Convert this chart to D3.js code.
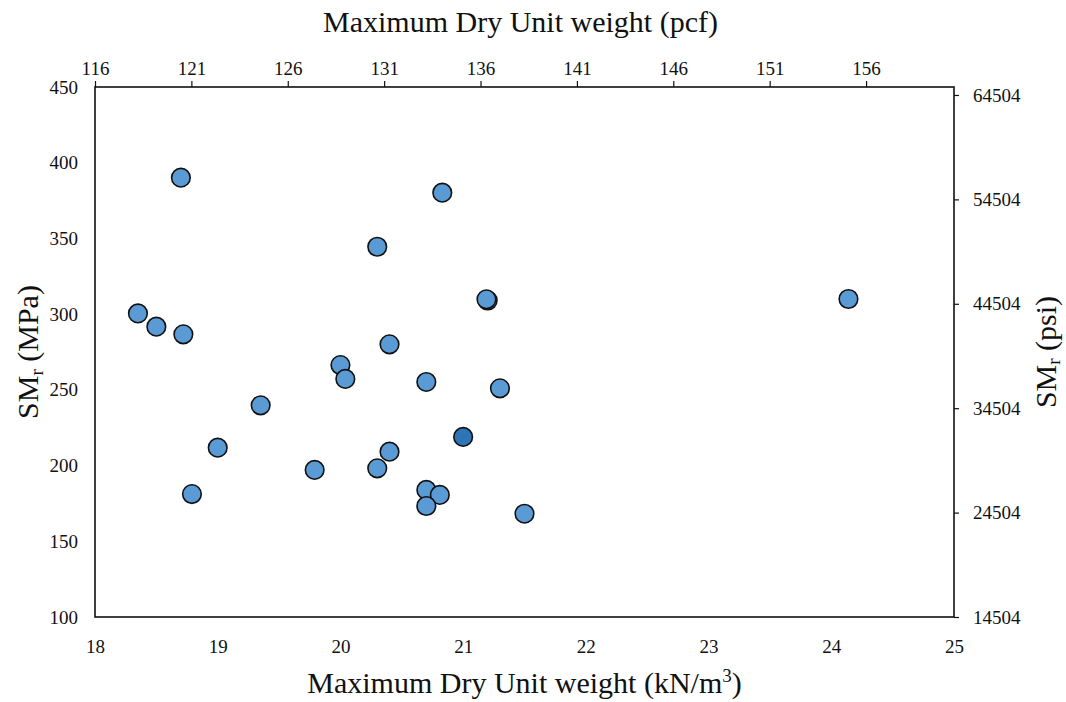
<!DOCTYPE html>
<html>
<head>
<meta charset="utf-8">
<script src="https://cdn.jsdelivr.net/npm/d3@7"></script>
<style>
  html, body { margin: 0; padding: 0; background: #fff; }
  svg text { font-family: "Liberation Serif", "Times New Roman", serif; fill: #111; }
</style>
</head>
<body>
<svg id="chart" width="1066" height="702"></svg>
<script>
// Maximum dry unit weight (kN/m³) and resilient modulus SMr (MPa)
const unitWeight = [18.70, 20.30, 18.35, 18.50, 18.72, 20.40, 20.00, 20.04, 19.35, 19.00,
                    20.40, 19.79, 20.30, 18.79, 20.83, 21.20, 21.19, 20.70, 21.30, 20.70,
                    20.81, 20.70, 21.50, 24.14];
const smr        = [390.1, 344.5, 300.5, 291.7, 286.7, 280.1, 266.4, 257.2, 239.8, 211.8,
                    209.2, 197.1, 198.2, 181.2, 380.2, 309.0, 309.8, 255.2, 251.0, 183.9,
                    180.6, 173.3, 168.2, 310.0];
// Stacked (coincident) samples, drawn in a deeper shade
const stackedUnitWeight = [21.00];
const stackedSmr        = [218.9];

const xTicks   = [18, 19, 20, 21, 22, 23, 24, 25];
const yTicks   = [100, 150, 200, 250, 300, 350, 400, 450];
const pcfTicks = [116, 121, 126, 131, 136, 141, 146, 151, 156];
const psiTicks = [14504, 24504, 34504, 44504, 54504, 64504];

const KN_TO_PCF = 6.366;
const MPA_TO_PSI = 145.04;

const svg = d3.select("#chart");
const plotL = 95, plotR = 954, plotT = 87, plotB = 617;

const x = d3.scaleLinear().domain([18, 25]).range([plotL, plotR]);
const y = d3.scaleLinear().domain([100, 450]).range([plotB, plotT]);
const xTop = d3.scaleLinear().domain([116, 116 + 7 * KN_TO_PCF]).range([plotL, plotR]);
const yRight = d3.scaleLinear().domain([100 * MPA_TO_PSI, 450 * MPA_TO_PSI]).range([plotB, plotT]);

const tickFont = "19px";

// Bottom axis (no tick marks)
const gBottom = svg.append("g").attr("transform", `translate(0,${plotB})`)
  .call(d3.axisBottom(x).tickValues(xTicks).tickSize(0).tickPadding(23).tickFormat(d3.format("d")));
// Left axis (no tick marks)
const gLeft = svg.append("g").attr("transform", `translate(${plotL},0)`)
  .call(d3.axisLeft(y).tickValues(yTicks).tickSize(0).tickPadding(17).tickFormat(d3.format("d")));
// Top axis in pcf
const gTop = svg.append("g").attr("transform", `translate(0,${plotT})`)
  .call(d3.axisTop(xTop).tickValues(pcfTicks).tickSize(6).tickPadding(6).tickFormat(d3.format("d")));
// Right axis in psi
const gRight = svg.append("g").attr("transform", `translate(${plotR},0)`)
  .call(d3.axisRight(yRight).tickValues(psiTicks).tickSize(5).tickPadding(14).tickFormat(d3.format("d")));

[gBottom, gLeft, gTop, gRight].forEach(g => {
  g.select(".domain").remove();
  g.selectAll("text").style("font-size", tickFont)
    .style("font-family", "'Liberation Serif', 'Times New Roman', serif").attr("fill", "#111");
  g.selectAll("line").attr("stroke", "#111").attr("stroke-width", 1.2);
});

// Plot frame
svg.append("rect")
  .attr("x", plotL).attr("y", plotT)
  .attr("width", plotR - plotL).attr("height", plotB - plotT)
  .attr("fill", "none").attr("stroke", "#111").attr("stroke-width", 1.6);

// Points
const pts = unitWeight.map((v, i) => ({ w: v, s: smr[i] }));
svg.append("g").selectAll("circle").data(pts).join("circle")
  .attr("cx", d => x(d.w)).attr("cy", d => y(d.s)).attr("r", 9.3)
  .attr("fill", "#5b9bd5").attr("stroke", "#111").attr("stroke-width", 1.6);

const stacked = stackedUnitWeight.map((v, i) => ({ w: v, s: stackedSmr[i] }));
svg.append("g").selectAll("circle").data(stacked).join("circle")
  .attr("cx", d => x(d.w)).attr("cy", d => y(d.s)).attr("r", 9.3)
  .attr("fill", "#2e75b6").attr("stroke", "#111").attr("stroke-width", 1.6);

// Axis titles
const titleSize = "30px";
const subSize = "19px";
const midX = (plotL + plotR) / 2;
const midY = (plotT + plotB) / 2;

svg.append("text").attr("x", midX - 4).attr("y", 32)
  .attr("text-anchor", "middle").style("font-size", titleSize)
  .text("Maximum Dry Unit weight (pcf)");

const tBottom = svg.append("text").attr("x", midX).attr("y", 693)
  .attr("text-anchor", "middle").style("font-size", titleSize);
tBottom.append("tspan").text("Maximum Dry Unit weight (kN/m");
tBottom.append("tspan").attr("dy", -11).style("font-size", subSize).text("3");
tBottom.append("tspan").attr("dy", 11).text(")");

const tLeft = svg.append("text")
  .attr("transform", `translate(38,${midY}) rotate(-90)`)
  .attr("text-anchor", "middle").style("font-size", titleSize);
tLeft.append("tspan").text("SM");
tLeft.append("tspan").attr("dy", 5).style("font-size", subSize).text("r");
tLeft.append("tspan").attr("dy", -5).text(" (MPa)");

const tRight = svg.append("text")
  .attr("transform", `translate(1056,${midY}) rotate(-90)`)
  .attr("text-anchor", "middle").style("font-size", titleSize);
tRight.append("tspan").text("SM");
tRight.append("tspan").attr("dy", 4).style("font-size", subSize).text("r");
tRight.append("tspan").attr("dy", -4).text(" (psi)");
</script>
</body>
</html>
